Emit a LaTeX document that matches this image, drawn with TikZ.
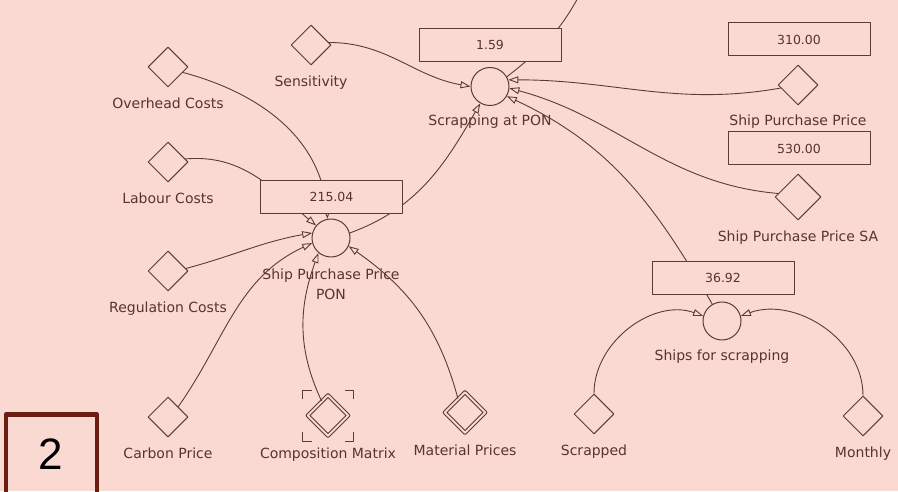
\documentclass[tikz,border=0pt]{standalone}
\usepackage{fontspec}
\newfontfamily\diagfont{DejaVu Sans}
\newfontfamily\numfont{Liberation Sans}
\usetikzlibrary{positioning, arrows.meta, shapes.geometric}
\definecolor{bgPink}{HTML}{FAD9D3}
\definecolor{lineBrown}{HTML}{5C3B36}
\definecolor{textBrown}{HTML}{5A3232}
\definecolor{numRed}{HTML}{6B1D12}

\begin{document}
\begin{tikzpicture}[x=1pt, y=1pt, line join=round,
    parm/.style={diamond, draw=lineBrown, line width=1pt, aspect=1, minimum size=40pt, inner sep=0pt},
    arrparm/.style={parm, minimum size=41pt, double=bgPink, double distance=2pt},
    varc/.style={circle, draw=lineBrown, line width=1pt, minimum size=38pt, inner sep=0pt},
    valbox/.style={rectangle, draw=lineBrown, line width=1pt, fill=bgPink, minimum width=142pt, minimum height=33pt, text=textBrown, font=\diagfont\fontsize{12.5}{15}\selectfont},
    lbl/.style={text=textBrown, font=\diagfont\fontsize{14}{20}\selectfont, inner sep=0pt, text height=10pt, text depth=3.5pt},
    infl/.style={draw=lineBrown, line width=0.9pt, -{Triangle[open, length=10pt, width=7pt]}},
  ]
  \useasboundingbox (0,0) rectangle (898,491);
  \clip (0,0) rectangle (898,491);
  \fill[bgPink] (0,0) rectangle (898,491);

  % constants and converters
  \node[parm] (sens) at (311,446) {};
  \node[parm] (ovh) at (168,424) {};
  \node[parm] (lab) at (168,329) {};
  \node[parm] (reg) at (168,220) {};
  \node[parm] (carb) at (168,74) {};
  \node[arrparm] (comp) at (328,75.5) {};
  \node[arrparm] (mat) at (465,78.5) {};
  \node[parm] (scrd) at (594,77) {};
  \node[parm] (mon) at (863,75) {};
  \node[parm] (sppr) at (798,406) {};
  \node[parm, minimum size=46pt] (spprsa) at (798,294) {};
  \node[varc] (spp) at (331,253) {};
  \node[varc] (sap) at (490,404.5) {};
  \node[varc] (sfs) at (722,170) {};

  % labels
  \node[lbl, below=11pt of sens] (sensLbl) {Sensitivity};
  \node[lbl, below=11pt of ovh] (ovhLbl) {Overhead Costs};
  \node[lbl, below=11pt of lab] (labLbl) {Labour Costs};
  \node[lbl, below=11pt of reg] (regLbl) {Regulation Costs};
  \node[lbl, below=11pt of carb] (carbLbl) {Carbon Price};
  \node[lbl, below=12pt of comp] (compLbl) {Composition Matrix};
  \node[lbl, below=12pt of mat] (matLbl) {Material Prices};
  \node[lbl, below=11pt of scrd] (scrdLbl) {Scrapped};
  \node[lbl, below=11pt of mon] (monLbl) {Monthly};
  \node[lbl, below=10pt of sppr] (spprLbl) {Ship Purchase Price};
  \node[lbl, below=11pt of spprsa] (spprsaLbl) {Ship Purchase Price SA};
  \node[lbl, below=9pt of sap] (sapLbl) {Scrapping at PON};
  \node[lbl, below=10pt of sfs] (sfsLbl) {Ships for scrapping};
  \node[lbl, align=center, text height=, text depth=, below=11pt of spp] (sppLbl) {Ship Purchase Price\\PON};

  % influences
  \draw[infl] (sens.8) to[out=0, in=170] (sap.west);
  \draw[infl] (ovh.-20) to[out=-15, in=95] (spp.100);
  \draw[infl] (lab.10) to[out=5, in=140] (spp.140);
  \draw[infl] (reg.8) to[out=15, in=190] (spp.165);
  \draw[infl] (carb.north east) to[out=55, in=205] (spp.195);
  \draw[infl] (comp.114) to[out=115, in=250] (spp.230);
  \draw[infl] (mat.117) to[out=105, in=-35] (spp.-25);
  \draw[infl] (spp.15) to[out=20, in=240] (sap.240);
  \draw[infl] (sppr.190) to[out=190, in=0] (sap.20);
  \draw[infl] (spprsa.170) to[out=175, in=-15] (sap.-5);
  \draw[infl] (sfs.120) to[out=120, in=-25] (sap.-30);
  \draw[infl] (scrd.north) to[out=90, in=160] (sfs.165);
  \draw[infl] (mon.north) to[out=90, in=20] (sfs.15);
  \coordinate (sapOut) at (580,497);
  \draw[draw=lineBrown, line width=0.9pt] (sap.30) to[out=38, in=242] (sapOut);

  % value displays
  \node[valbox] (sppVal) at (331.5,294) {215.04};
  \node[valbox] (sapVal) at (490,446) {1.59};
  \node[valbox] (spprVal) at (799,451.5) {310.00};
  \node[valbox] (spprsaVal) at (799,342.5) {530.00};
  \node[valbox] (sfsVal) at (723,213) {36.92};

  % selection corners
  \foreach \sx/\sy in {1/1, 1/-1, -1/1, -1/-1}
    \draw[lineBrown, line width=1pt] ([shift={(\sx*25.5, \sy*16.5)}]comp.center) -- ++(0, \sy*9) -- ++(-\sx*9, 0);

  % slide number
  \node[draw=numRed, line width=4.5pt, minimum width=91pt, minimum height=95pt, inner sep=0pt, outer sep=0pt, anchor=north west] (slideBox) at (5.8,76.5) {};
  \node[font=\numfont\fontsize{44}{44}\selectfont, text=black] (slideNum) at (51,37) {2};
\end{tikzpicture}
\end{document}
